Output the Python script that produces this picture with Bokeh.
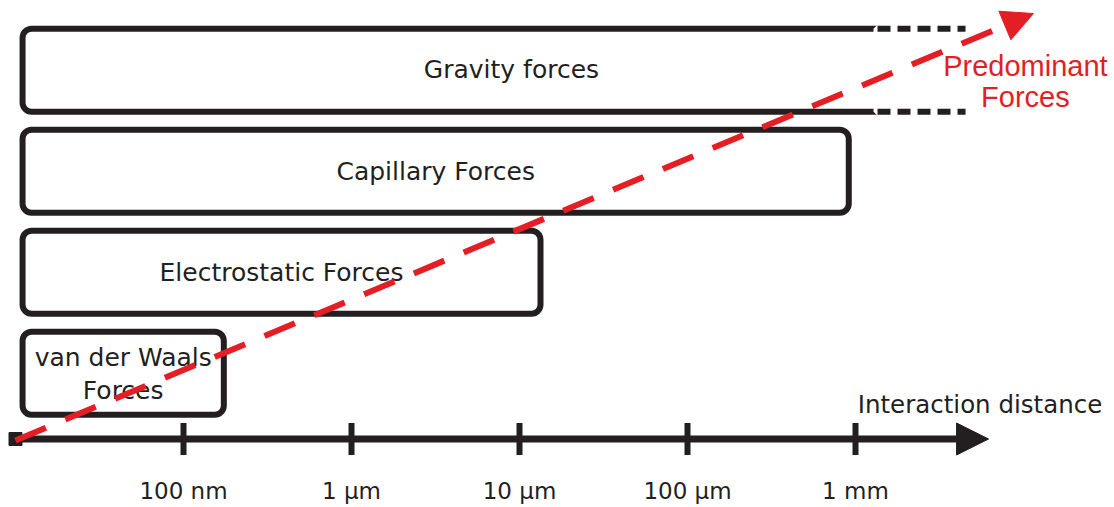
from bokeh.plotting import figure
from bokeh.models import Range1d, Arrow, NormalHead
from bokeh.core.properties import value
from bokeh.embed import file_html
from bokeh.resources import INLINE

# ---------------- data ----------------
# interaction distance on a log10(metre) scale
tick_exponents = [-7, -6, -5, -4, -3]
tick_labels = ["100 nm", "1 µm", "10 µm", "100 µm", "1 mm"]

# force regimes (row 1 = bottom)
force_rows = [1, 2, 3]
force_labels = ["van der Waals\nForces", "Electrostatic Forces", "Capillary Forces"]
force_start = [-7.958, -7.958, -7.958]
force_end = [-6.760, -4.875, -3.040]

gravity_row = 4
gravity_label = "Gravity forces"
gravity_start = -7.958
gravity_solid_end = -2.869
gravity_dashed_end = -2.345
gravity_label_x = -5.048

axis_origin = -8.0
axis_tip = -2.208
axis_title = "Interaction distance"
axis_title_x = -2.259

trend_x = [-8.0, -1.9405]
trend_y = [0.334, 4.561]
trend_label = ["Predominant", "Forces"]

# ---------------- style ----------------
BLACK = "#231F20"
RED = "#E31E25"
ROW_PX = 101.0
HALF = 41.5 / ROW_PX
AXIS_Y = 0.3485
FONT = value("DejaVu Sans")

p = figure(width=1114, height=507, output_backend="svg", toolbar_location=None,
           x_range=Range1d(-8.08929, -1.45833), y_range=Range1d(-0.3297, 4.6901),
           x_axis_type=None, y_axis_type=None, min_border=0,
           outline_line_color=None, background_fill_color="white")
p.grid.visible = False

# gravity box: rounded on the left, open to the right
far = -1.0
p.quad(left=[gravity_start], right=[far], top=[gravity_row + HALF], bottom=[gravity_row - HALF],
       fill_color="white", line_color=BLACK, line_width=6, border_radius=(9, 0, 0, 9))
p.quad(left=[gravity_solid_end], right=[far], top=[gravity_row + HALF], bottom=[gravity_row - HALF],
       fill_color="white", line_color="white", line_width=8)
p.segment(x0=[gravity_solid_end] * 2, x1=[gravity_dashed_end] * 2,
          y0=[gravity_row + HALF, gravity_row - HALF], y1=[gravity_row + HALF, gravity_row - HALF],
          line_color=BLACK, line_width=6, line_dash="13 7")

# other boxes
p.quad(left=force_start, right=force_end,
       top=[r + HALF for r in force_rows], bottom=[r - HALF for r in force_rows],
       fill_color="white", line_color=BLACK, line_width=6, border_radius=9)

# box labels
lab_x = [(a + b) / 2 for a, b in zip(force_start, force_end)]
p.text(x=lab_x[1:], y=force_rows[1:], text=force_labels[1:], text_font=FONT,
       text_font_size="25px", text_align="center", text_baseline="alphabetic",
       text_color=BLACK, y_offset=0)
vdw_lines = force_labels[0].split("\n")
p.text(x=[lab_x[0], lab_x[0]], y=[force_rows[0], force_rows[0]], text=vdw_lines,
       text_font=FONT, text_font_size="25px", text_align="center",
       text_baseline="alphabetic", text_color=BLACK, y_offset=[-15.3, 17.2])
p.text(x=[gravity_label_x], y=[gravity_row], text=[gravity_label],
       text_font=FONT, text_font_size="25px", text_align="center",
       text_baseline="alphabetic", text_color=BLACK, y_offset=-0.5)

# axis
p.add_layout(Arrow(end=NormalHead(size=32, fill_color=BLACK, line_color=BLACK, line_width=1),
                   x_start=axis_origin, y_start=AXIS_Y, x_end=axis_tip, y_end=AXIS_Y,
                   line_color=BLACK, line_width=7))
p.scatter(x=tick_exponents, y=[AXIS_Y] * len(tick_exponents), marker="dash", angle=1.5708,
          size=32, line_color=BLACK, line_width=6)
p.scatter(x=[axis_origin], y=[AXIS_Y], marker="square", size=13,
          fill_color=BLACK, line_color=BLACK)
p.text(x=tick_exponents, y=[AXIS_Y] * len(tick_exponents), text=tick_labels, text_font=FONT,
       text_font_size="23px", text_align="center", text_baseline="alphabetic",
       text_color=BLACK, y_offset=51.5)
p.text(x=[axis_title_x], y=[AXIS_Y], text=[axis_title], text_font=FONT,
       text_font_size="24.5px", text_align="center", text_baseline="alphabetic",
       text_color=BLACK, y_offset=-35)

# predominant-forces trend arrow
p.add_layout(Arrow(end=NormalHead(size=31, fill_color=RED, line_color=RED, line_width=1),
                   x_start=trend_x[0], y_start=trend_y[0], x_end=trend_x[1], y_end=trend_y[1],
                   line_color=RED, line_width=6, line_dash="33 21"))
p.text(x=[trend_x[1] - 0.048] * 2, y=[gravity_row, gravity_row], text=trend_label,
       text_font=value("Liberation Sans"), text_font_size="29px", text_align="center",
       text_baseline="alphabetic", text_color=RED, y_offset=[-4, 26.5])

open("out.html", "w").write(file_html(p, INLINE))
